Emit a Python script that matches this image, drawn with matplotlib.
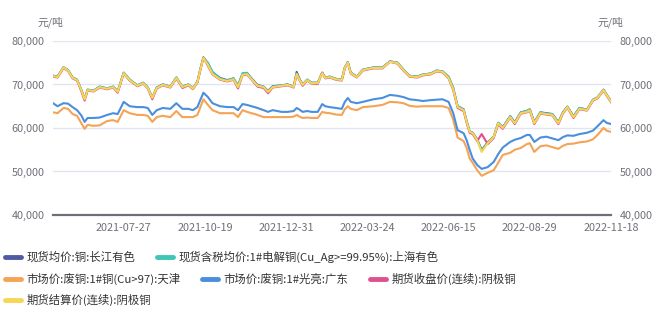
import numpy as np
import matplotlib
matplotlib.use("Agg")
import matplotlib.pyplot as plt
from matplotlib.ticker import FuncFormatter

plt.rcParams['font.family'] = ['Noto Sans CJK SC', 'DejaVu Sans']

# trading-day index of each sample (0 = first day shown)
day = [0, 3, 7, 10, 13, 16, 19, 21, 23, 27,
       31, 36, 40, 43, 47, 51, 56, 60, 63, 66,
       69, 73, 78, 82, 86, 90, 93, 96, 98, 100,
       103, 106, 111, 116, 120, 123, 126, 129, 132, 136,
       140, 143, 146, 152, 156, 160, 162, 164, 166, 169,
       172, 176, 179, 181, 184, 188, 192, 194, 196, 198,
       202, 206, 213, 219, 224, 229, 233, 237, 242, 246,
       251, 255, 259, 263, 266, 269, 273, 275, 277, 279,
       282, 285, 289, 293, 296, 299, 304, 307, 311, 315,
       317, 320, 324, 328, 332, 336, 339, 342, 346, 350,
       355, 359, 362, 366, 368, 371]

tick_days = [47, 101, 155, 209, 263, 317, 371]
tick_labels = ["2021-07-27", "2021-10-19", "2021-12-31", "2022-03-24",
               "2022-06-15", "2022-08-29", "2022-11-18"]

# values in thousand yuan / ton
cj_spot = [72.0, 71.8, 73.9, 73.3, 71.6, 71.1, 68.6, 66.7, 68.8, 68.6,
           69.5, 69.1, 69.5, 68.4, 72.7, 71.1, 69.8, 70.4, 69.3, 67.0,
           69.3, 70.0, 69.5, 71.6, 69.5, 70.0, 69.1, 70.6, 73.6, 76.2,
           74.8, 72.8, 71.5, 71.0, 71.4, 69.7, 72.4, 72.6, 71.4, 69.9,
           69.5, 68.5, 69.6, 69.8, 70.0, 69.5, 72.9, 71.2, 70.0, 71.1,
           70.4, 70.4, 72.7, 71.6, 71.8, 71.3, 71.1, 73.9, 75.1, 72.7,
           71.8, 73.4, 73.9, 73.9, 75.3, 75.0, 73.4, 72.0, 71.8, 72.3,
           72.5, 73.2, 73.0, 71.7, 69.3, 65.0, 64.3, 61.6, 59.2, 58.9,
           57.4, 54.9, 56.7, 58.0, 61.2, 60.2, 62.7, 61.3, 63.6, 63.9,
           64.3, 61.3, 63.6, 63.4, 63.2, 61.3, 63.6, 64.9, 62.7, 64.6,
           64.2, 66.5, 67.0, 68.8, 67.7, 66.1]

sh_spot = [72.0, 71.8, 74.0, 73.3, 71.6, 71.1, 68.6, 66.7, 68.8, 68.6,
           69.5, 69.1, 69.5, 68.4, 72.7, 71.1, 69.8, 70.4, 69.3, 67.0,
           69.3, 70.0, 69.5, 71.6, 69.5, 70.0, 69.1, 70.6, 73.6, 76.2,
           75.0, 72.9, 71.4, 70.9, 71.4, 69.8, 72.6, 72.7, 71.3, 69.8,
           69.5, 68.4, 69.5, 69.8, 70.0, 69.5, 72.5, 71.1, 70.0, 71.1,
           70.4, 70.4, 72.7, 71.6, 71.8, 71.3, 71.1, 73.9, 75.1, 72.7,
           71.8, 73.4, 73.9, 73.9, 75.3, 75.0, 73.4, 72.0, 71.8, 72.3,
           72.5, 73.2, 73.0, 71.8, 69.3, 65.0, 64.2, 61.5, 59.2, 58.9,
           57.3, 54.8, 56.6, 58.0, 61.2, 60.1, 62.7, 61.2, 63.6, 63.9,
           64.2, 61.2, 63.6, 63.3, 63.2, 61.2, 63.5, 64.9, 62.6, 64.6,
           64.2, 66.5, 67.0, 68.8, 67.7, 66.1]

scrap_tj = [63.6, 63.4, 64.6, 64.4, 63.2, 62.8, 61.0, 59.8, 60.7, 60.5,
            60.6, 61.6, 61.8, 61.4, 64.1, 63.4, 63.0, 63.0, 62.8, 61.4,
            62.5, 62.8, 62.5, 63.9, 62.5, 62.5, 62.5, 63.0, 64.8, 66.6,
            65.3, 64.1, 63.4, 63.4, 63.4, 62.5, 64.1, 63.7, 63.4, 63.0,
            62.5, 62.5, 62.5, 62.5, 62.5, 62.6, 63.0, 62.6, 62.3, 62.4,
            62.3, 62.3, 63.7, 63.5, 63.4, 63.1, 63.0, 64.3, 65.0, 64.4,
            64.1, 64.8, 65.0, 65.3, 66.0, 65.9, 65.7, 65.1, 64.9, 65.0,
            65.0, 65.0, 65.0, 64.6, 62.0, 57.8, 57.0, 55.4, 53.0, 52.0,
            50.3, 49.0, 49.7, 50.3, 52.0, 53.8, 54.3, 55.0, 55.4, 56.3,
            56.5, 54.5, 55.8, 56.0, 55.6, 55.2, 55.9, 56.3, 56.4, 56.7,
            56.9, 57.4, 58.4, 60.0, 59.4, 59.1]

scrap_gd = [65.7, 65.0, 65.7, 65.6, 64.8, 64.1, 62.8, 61.4, 62.3, 62.3,
            62.4, 63.0, 63.4, 63.2, 66.0, 65.0, 64.8, 64.8, 64.6, 63.0,
            64.1, 64.6, 64.4, 65.7, 64.4, 64.4, 64.1, 64.8, 66.5, 68.1,
            67.1, 65.7, 65.0, 64.8, 64.8, 64.1, 65.5, 65.3, 65.0, 64.6,
            64.1, 63.7, 64.1, 63.7, 63.7, 63.9, 64.6, 64.2, 63.7, 63.9,
            63.7, 63.7, 65.5, 65.0, 64.8, 64.6, 64.4, 66.0, 66.9, 66.0,
            65.7, 66.0, 66.6, 66.9, 67.6, 67.4, 67.1, 66.6, 66.4, 66.2,
            66.4, 66.5, 66.6, 66.0, 63.5, 59.5, 58.8, 57.2, 55.0, 53.0,
            51.5, 50.6, 51.0, 52.2, 54.0, 55.5, 56.8, 57.3, 57.7, 58.4,
            58.4, 56.8, 57.8, 58.0, 57.6, 57.2, 57.9, 58.3, 58.2, 58.6,
            58.9, 59.4, 60.4, 61.8, 61.2, 60.9]

fut_close = [71.8, 71.6, 73.8, 73.1, 71.4, 70.9, 68.3, 66.3, 68.6, 68.4,
             69.3, 68.9, 69.3, 68.1, 72.5, 70.9, 69.6, 70.2, 69.1, 66.6,
             69.1, 69.8, 69.3, 71.4, 69.2, 69.8, 68.9, 70.4, 73.4, 76.2,
             74.3, 72.3, 71.1, 70.7, 71.1, 69.1, 72.1, 72.3, 71.1, 69.5,
             69.2, 68.0, 69.3, 69.6, 69.8, 69.3, 72.3, 70.9, 69.7, 70.9,
             70.2, 70.1, 72.7, 71.4, 71.6, 71.1, 70.9, 73.7, 75.0, 72.5,
             71.6, 73.2, 73.7, 73.7, 75.2, 74.8, 73.2, 71.8, 71.6, 72.1,
             72.3, 73.0, 72.8, 71.4, 68.8, 64.6, 63.9, 61.2, 58.9, 58.6,
             57.0, 58.6, 56.3, 57.7, 60.9, 59.8, 62.4, 60.9, 63.3, 63.6,
             64.0, 60.9, 63.3, 63.1, 62.9, 60.9, 63.3, 64.7, 62.3, 64.3,
             64.0, 66.3, 66.8, 68.6, 67.5, 65.9]

fut_settle = [71.9, 71.7, 73.9, 73.2, 71.5, 71.0, 68.5, 66.6, 68.7, 68.5,
              69.4, 69.0, 69.4, 68.3, 72.6, 71.0, 69.7, 70.3, 69.2, 66.9,
              69.2, 69.9, 69.4, 71.5, 69.4, 69.9, 69.0, 70.5, 73.5, 76.1,
              74.5, 72.4, 71.2, 70.8, 71.2, 69.4, 72.2, 72.4, 71.2, 69.7,
              69.4, 68.3, 69.4, 69.7, 69.9, 69.4, 72.4, 71.0, 69.9, 71.0,
              70.3, 70.3, 72.6, 71.5, 71.7, 71.2, 71.0, 73.8, 75.0, 72.6,
              71.7, 73.3, 73.8, 73.8, 75.2, 74.9, 73.3, 71.9, 71.7, 72.2,
              72.4, 73.1, 72.9, 71.5, 69.0, 64.8, 64.1, 61.4, 59.1, 58.8,
              57.2, 54.5, 56.5, 57.9, 61.1, 60.0, 62.5, 61.1, 63.4, 63.7,
              64.1, 61.1, 63.4, 63.2, 63.0, 61.1, 63.4, 64.8, 62.5, 64.4,
              64.1, 66.4, 66.9, 68.7, 67.6, 66.0]

names = ["现货均价:铜:长江有色",
         "现货含税均价:1#电解铜(Cu_Ag>=99.95%):上海有色",
         "市场价:废铜:1#铜(Cu>97):天津",
         "市场价:废铜:1#光亮:广东",
         "期货收盘价(连续):阴极铜",
         "期货结算价(连续):阴极铜"]
series = [cj_spot, sh_spot, scrap_tj, scrap_gd, fut_close, fut_settle]
colors = ["#4F5AA3", "#3FC4B6", "#F5A355", "#4A8FDD", "#E0508E", "#F7D555"]

fig = plt.figure(figsize=(6.61, 3.13), dpi=100)
ax = fig.add_axes([0.0802, 0.3131, 0.8442, 0.556])

for vals, c, n in zip(series, colors, names):
    ax.plot(day, np.array(vals) * 1000, color=c, lw=1.5, label=n,
            solid_joinstyle="round")

ax.set_xlim(0, 371)
ax.set_ylim(40000, 80000)
ax.set_yticks([40000, 50000, 60000, 70000, 80000])
ax.yaxis.set_major_formatter(FuncFormatter(lambda v, p: f"{int(v):,}"))
ax.set_xticks(tick_days)
ax.set_xticklabels(tick_labels)
ax.grid(axis="y", color="#E0E6F1", lw=1)
ax.set_axisbelow(True)
for s in ["top", "left", "right"]:
    ax.spines[s].set_visible(False)
ax.spines["bottom"].set_color("#6E7079")
ax.spines["bottom"].set_linewidth(1.6)
ax.tick_params(axis="both", length=0, labelsize=7.8, colors="#6E7079")
ax.tick_params(axis="x", pad=6)
ax.tick_params(axis="y", pad=6, right=True, labelright=True)

fig.text(50 / 661, 1 - 22 / 313, "元/吨", fontsize=7.8, color="#6E7079",
         ha="center", va="center")
fig.text(610 / 661, 1 - 22 / 313, "元/吨", fontsize=7.8, color="#6E7079",
         ha="center", va="center")

rows = [[0, 1], [2, 3, 4], [5]]
row_y = [257, 279, 300]
for r, y in zip(rows, row_y):
    handles = []
    for i in r:
        h, = ax.plot([], [], color=colors[i], lw=3.5, solid_capstyle="round")
        handles.append(h)
    fig.legend(handles, [names[i] for i in r], loc="center left",
               bbox_to_anchor=(0.0, 1 - y / 313), ncol=len(r), frameon=False,
               fontsize=8.2, labelcolor="#333333", handlelength=1.4,
               handletextpad=0.5, columnspacing=1.9, borderaxespad=0,
               borderpad=0.4)

fig.savefig("out.png", dpi=100)
